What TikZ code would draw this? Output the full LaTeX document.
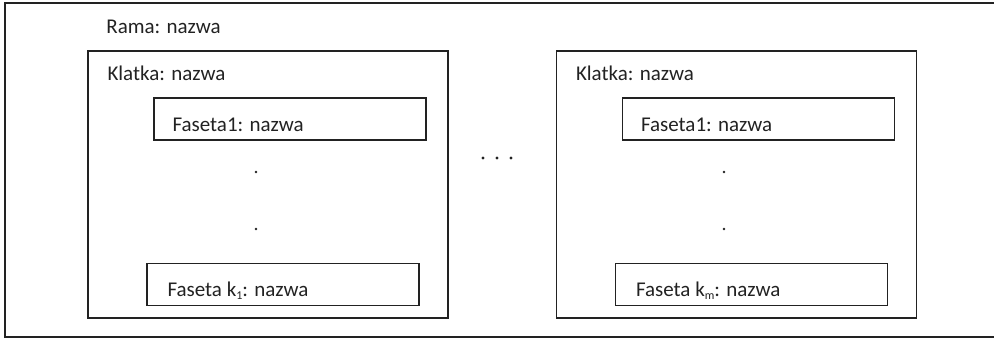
\documentclass[tikz,border=0pt]{standalone}
\usepackage{fontspec}
\setmainfont{Carlito}
\usepackage{tikz}
\definecolor{ink}{HTML}{222222}
\newcommand{\ksub}[1]{\raisebox{-0.25ex}{\fontsize{6pt}{6pt}\selectfont #1}}
\tikzset{
	txt/.style={anchor=base west,inner sep=0pt,text=ink,font=\fontsize{10.5pt}{12pt}\selectfont},
	klatka/.style={draw=ink,line width=0.9pt,minimum width=180pt,minimum height=133.5pt,inner sep=0pt},
	faseta/.style={draw=ink,line width=0.9pt,minimum width=136pt,minimum height=21pt,inner sep=0pt},
	dot/.style={circle,inner sep=0pt,minimum size=#1,fill=ink}
}
\begin{document}
\begin{tikzpicture}[x=0.5pt,y=-0.5pt]
	\useasboundingbox (0,0) rectangle (994,339);

	% rama
	\draw[ink,line width=0.9pt] (994,3) -- (5,3) -- (5,337) -- (994,337);
	\node [txt] (rama) at (106,33) {Rama: nazwa};

	% klatki
	\node [klatka] (kl1) at (268,184.5) {};
	\node [klatka] (kl2) at (736.5,184.5) {};
	\node [txt] (kl1t) at ([shift={(20,30)}]kl1.north west) {Klatka: nazwa};
	\node [txt] (kl2t) at ([shift={(20,30)}]kl2.north west) {Klatka: nazwa};

	% fasety
	\node [faseta] (fa1) at (290,119) {};
	\node [faseta] (fb1) at (283,284.5) {};
	\node [faseta] (fa2) at (758.5,119) {};
	\node [faseta] (fb2) at (751.5,284.5) {};
	\node [txt] (fa1t) at ([shift={(19,12)}]fa1.west) {Faseta1: nazwa};
	\node [txt] (fb1t) at ([shift={(21,12)}]fb1.west) {Faseta k\ksub{1}: nazwa};
	\node [txt] (fa2t) at ([shift={(19,12)}]fa2.west) {Faseta1: nazwa};
	\node [txt] (fb2t) at ([shift={(21,12)}]fb2.west) {Faseta k\ksub{m}: nazwa};

	% kropki
	\node [dot=1.3pt] (d11) at (256,172) {};
	\node [dot=1.3pt] (d12) at (256,229) {};
	\node [dot=1.3pt] (d21) at (724,172) {};
	\node [dot=1.3pt] (d22) at (724,229) {};
	\foreach \x/\n in {483/m1,497/m2,511/m3}
		\node [dot=1.7pt] (\n) at (\x,158) {};
\end{tikzpicture}
\end{document}
